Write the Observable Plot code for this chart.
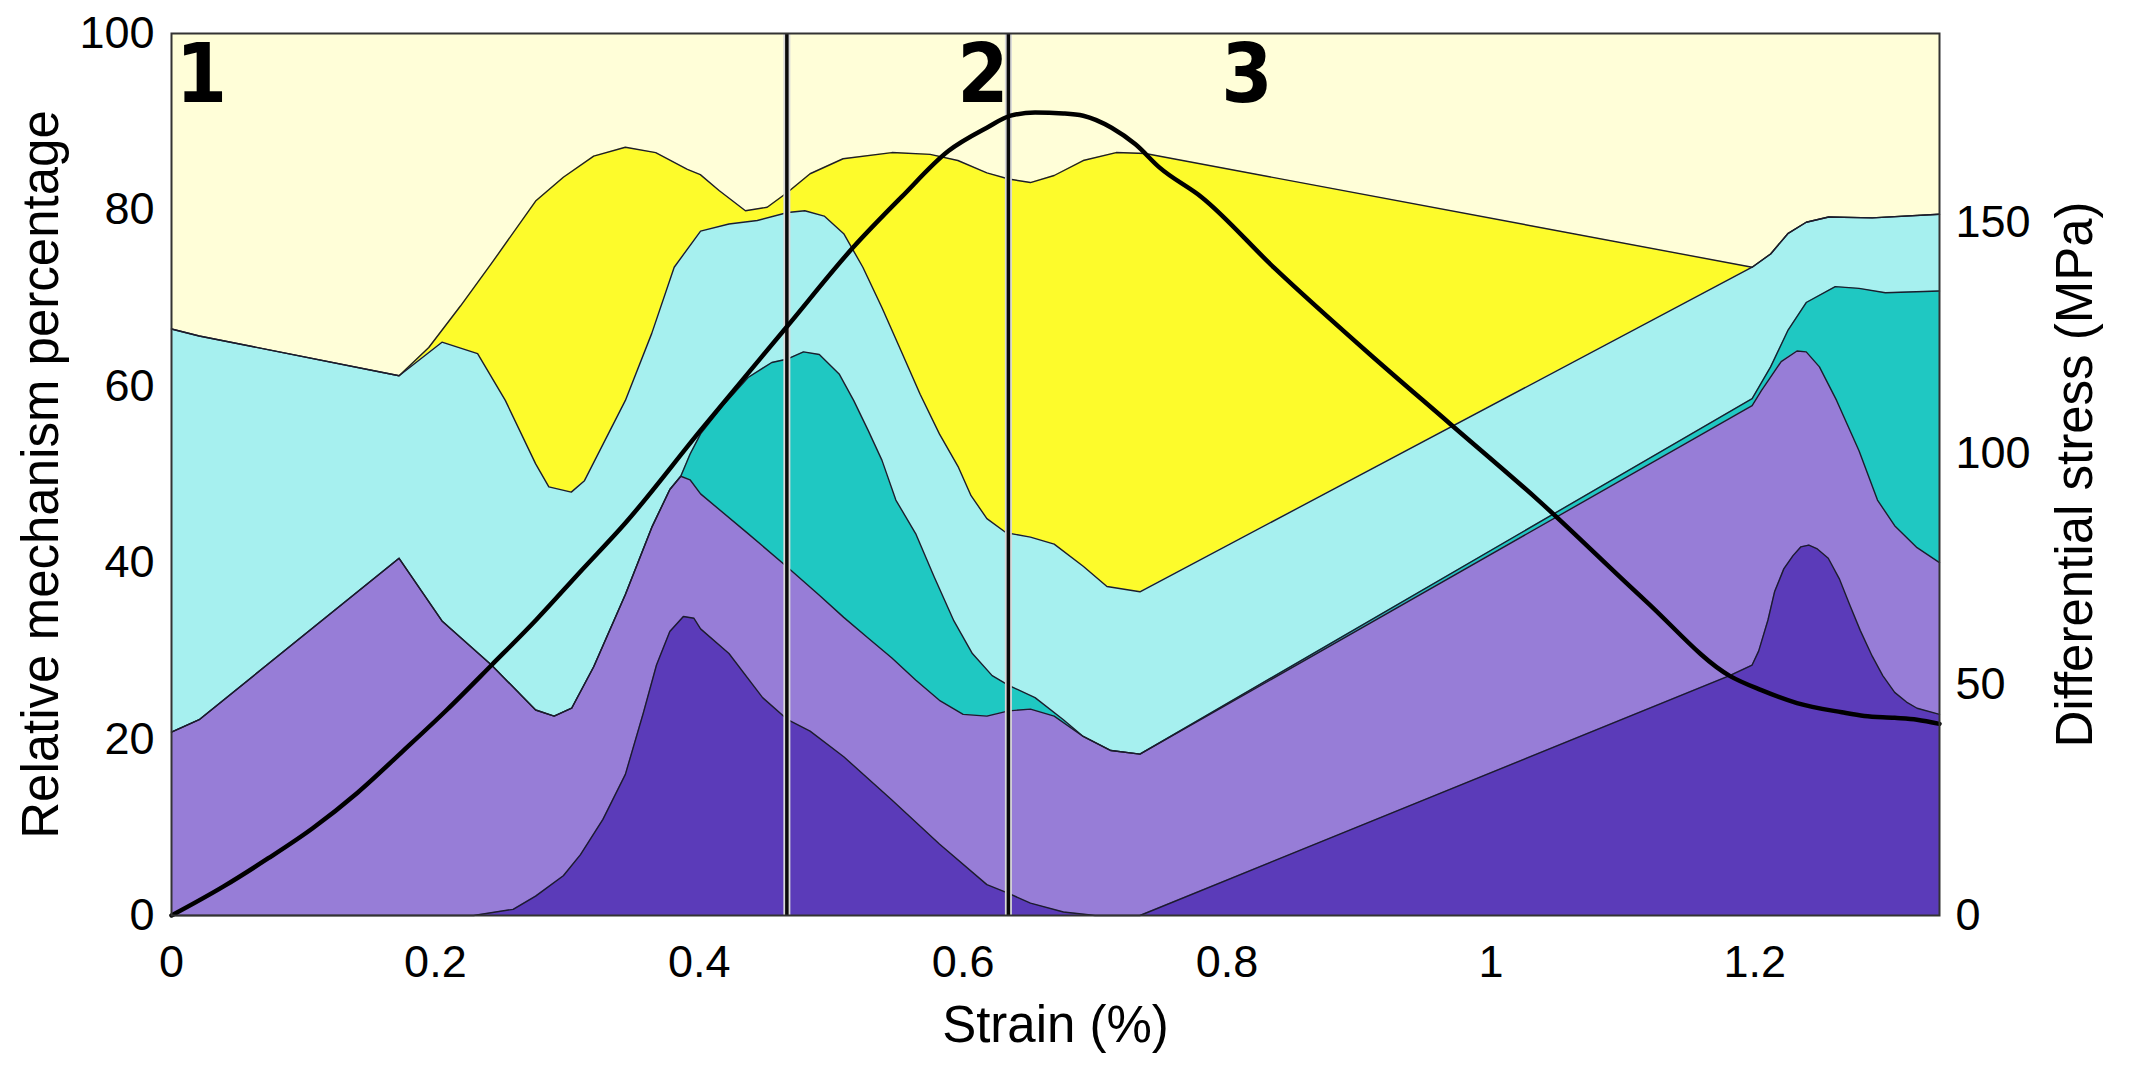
<!DOCTYPE html>
<html><head><meta charset="utf-8">
<script src="https://cdn.jsdelivr.net/npm/d3@7"></script>
<script src="https://cdn.jsdelivr.net/npm/@observablehq/plot@0.6"></script>
<style>
html,body{margin:0;padding:0;background:#fff;}
#chart{width:2148px;height:1075px;}
</style></head><body><div id="chart"></div>
<script>
// ---- data (strain %, cumulative mechanism percentage) ----
const darkPurpleTop = [[0,0],[0.229,0],[0.259,0.7],[0.276,2.2],[0.297,4.5],[0.310,6.9],[0.327,10.9],[0.344,16.0],[0.3575,22.9],[0.3676,28.4],[0.3777,32.2],[0.388,33.9],[0.396,33.7],[0.401,32.5],[0.4225,29.7],[0.448,24.7],[0.467,22.2],[0.484,20.9],[0.5095,18.0],[0.546,13.1],[0.582,8.1],[0.618,3.5],[0.6345,2.5],[0.651,1.4],[0.676,0.4],[0.70,0],[0.734,0],[1.181,27.2],[1.198,28.4],[1.203,30.0],[1.21,33.5],[1.215,36.7],[1.222,39.3],[1.229,40.8],[1.235,41.8],[1.241,42.0],[1.247,41.6],[1.2557,40.5],[1.264,38.2],[1.272,35.2],[1.28,32.3],[1.289,29.4],[1.297,27.2],[1.306,25.3],[1.315,24.2],[1.323,23.5],[1.34,22.8]];
const purpleTop = [[0,20.8],[0.021,22.2],[0.1725,40.5],[0.205,33.4],[0.2425,28.4],[0.276,23.3],[0.290,22.6],[0.3033,23.5],[0.320,28.2],[0.344,36.4],[0.364,44.0],[0.3777,48.3],[0.386,49.8],[0.393,49.4],[0.401,47.8],[0.437,43.3],[0.466,39.6],[0.491,36.3],[0.5095,33.8],[0.5277,31.5],[0.546,29.2],[0.564,26.7],[0.582,24.4],[0.600,22.8],[0.618,22.6],[0.6345,23.2],[0.651,23.4],[0.669,22.6],[0.691,20.3],[0.712,18.7],[0.734,18.3],[1.198,57.8],[1.205,59.5],[1.22,62.8],[1.232,64.0],[1.239,63.9],[1.249,62.2],[1.262,58.4],[1.279,52.7],[1.293,47.1],[1.306,44.2],[1.323,41.7],[1.34,40.0]];
const tealTop = [[0,20.8],[0.021,22.2],[0.1725,40.5],[0.205,33.4],[0.2425,28.4],[0.276,23.3],[0.290,22.6],[0.3033,23.5],[0.320,28.2],[0.344,36.4],[0.364,44.0],[0.3777,48.3],[0.386,49.8],[0.393,52.3],[0.401,54.6],[0.419,58.0],[0.437,61.0],[0.455,62.7],[0.467,63.1],[0.479,63.9],[0.491,63.6],[0.506,61.4],[0.517,58.4],[0.528,55.0],[0.5385,51.6],[0.549,47.1],[0.564,43.3],[0.578,38.4],[0.593,33.4],[0.607,29.7],[0.622,27.2],[0.6345,26.1],[0.6545,24.7],[0.676,22.2],[0.691,20.3],[0.712,18.7],[0.734,18.3],[1.198,58.6],[1.212,62.2],[1.225,66.3],[1.239,69.5],[1.261,71.3],[1.279,71.1],[1.299,70.6],[1.34,70.8]];
const cyanTop = [[0,66.5],[0.021,65.7],[0.1725,61.2],[0.205,65.0],[0.232,63.7],[0.253,58.4],[0.276,51.2],[0.286,48.6],[0.303,48.0],[0.313,49.3],[0.344,58.4],[0.364,66.0],[0.381,73.5],[0.401,77.6],[0.4225,78.4],[0.444,78.8],[0.467,79.7],[0.480,79.9],[0.4947,79.3],[0.5095,77.3],[0.524,73.5],[0.5385,68.9],[0.553,64.0],[0.5674,59.1],[0.582,54.6],[0.5965,50.8],[0.606,47.6],[0.618,45.0],[0.6326,43.4],[0.651,42.9],[0.669,42.1],[0.691,39.6],[0.709,37.3],[0.734,36.7],[1.198,73.5],[1.212,75.0],[1.225,77.3],[1.239,78.6],[1.256,79.2],[1.289,79.1],[1.34,79.5]];
const yellowTop = [[0,66.5],[0.021,65.7],[0.1725,61.2],[0.195,64.4],[0.219,69.1],[0.2424,73.9],[0.276,81.0],[0.297,83.7],[0.32,86.1],[0.344,87.1],[0.367,86.5],[0.391,84.6],[0.4008,84.0],[0.415,82.2],[0.435,79.9],[0.4515,80.3],[0.467,82.0],[0.484,84.1],[0.509,85.8],[0.546,86.5],[0.575,86.3],[0.596,85.6],[0.618,84.2],[0.6345,83.5],[0.651,83.1],[0.669,83.9],[0.691,85.6],[0.716,86.5],[0.738,86.4],[1.198,73.5],[1.212,75.0],[1.225,77.3],[1.239,78.6],[1.256,79.2],[1.289,79.1],[1.34,79.5]];
// differential stress (MPa) along strain
const stressStrain = [0,0.0395,0.0734,0.107,0.141,0.175,0.2086,0.2425,0.2763,0.310,0.344,0.4008,0.467,0.5167,0.553,0.589,0.618,0.636,0.6545,0.676,0.691,0.7125,0.7306,0.7487,0.781,0.8356,0.908,0.969,1.036,1.117,1.181,1.205,1.232,1.266,1.283,1.306,1.323,1.34];
const stressMPa    = [0,6.3,12.4,18.9,26.6,35.5,44.5,54.2,64.0,74.5,85.0,105.0,127.7,144.7,155.5,165.6,170.6,173.2,173.9,173.7,173.2,170.6,167.0,162.0,155.5,140.3,121.6,106.5,89.9,68.2,51.9,48.8,46.0,44.0,43.2,42.8,42.4,41.5];
const phaseLines = [0.4664, 0.6343];
const phaseLabels = [{label:"1", strain:0.0227, pct:92.2},{label:"2", strain:0.615, pct:92.2},{label:"3", strain:0.815, pct:92.2}];
const xTicks = [0,0.2,0.4,0.6,0.8,1,1.2];
const yTicks = [0,20,40,60,80,100];
const stressTicks = [0,50,100,150];
const stressMax = 191;
const strainMax = 1.34;

const layers = [
  {name:"yellow", top: yellowTop, fill:"#fdfb2b"},
  {name:"cyan", top: cyanTop, fill:"#a6f0ef"},
  {name:"teal", top: tealTop, fill:"#1fc8c2"},
  {name:"purple", top: purpleTop, fill:"#977dd7"},
  {name:"dark", top: darkPurpleTop, fill:"#5b3bb9"}
];
const toObj = arr => arr.map(([s,p]) => ({strain:s, pct:p}));
const stress = stressStrain.map((s,i) => ({strain:s, mpa:stressMPa[i]}));
const toPct = v => v*100/stressMax;

const font = "'Liberation Sans', Arial, Helvetica, sans-serif";
const marks = [Plot.frame({fill:"#fffed8"})];
for (const L of layers) marks.push(Plot.areaY(toObj(L.top), {x:"strain", y:"pct", fill:L.fill, curve:"linear"}));
for (const L of layers) marks.push(Plot.line(toObj(L.top), {x:"strain", y:"pct", stroke:"#1c1c2c", strokeWidth:1.4, strokeLinejoin:"round", curve:"linear"}));
marks.push(
  Plot.ruleX(phaseLines, {stroke:"#d8d8d8", strokeWidth:7}),
  Plot.ruleX(phaseLines, {stroke:"#0a0a0a", strokeWidth:3.5}),
  Plot.line(stress, {x:"strain", y: d => toPct(d.mpa), stroke:"#000", strokeWidth:4.5, strokeLinejoin:"round", curve:"monotone-x"}),
  Plot.frame({stroke:"#333", strokeWidth:2}),
  Plot.axisX({ticks:xTicks, tickSize:0, tickPadding:30, fontSize:45, label:null, tickFormat:d=>String(d)}),
  Plot.axisY({ticks:yTicks, tickSize:0, tickPadding:17, fontSize:45, label:null}),
  Plot.text(stressTicks, {frameAnchor:"right", y: d => toPct(d), text: d => String(d), dx:16, textAnchor:"start", fontSize:45}),
  Plot.text(["Strain (%)"], {frameAnchor:"bottom", text:d=>d, textAnchor:"middle", lineAnchor:"middle", dy:110, fontSize:51}),
  Plot.text(["Relative mechanism percentage"], {frameAnchor:"left", text:d=>d, rotate:-90, textAnchor:"middle", lineAnchor:"middle", dx:-130, fontSize:51}),
  Plot.text(["Differential stress (MPa)"], {frameAnchor:"right", text:d=>d, rotate:-90, textAnchor:"middle", lineAnchor:"middle", dx:136, fontSize:51}),
  Plot.text(phaseLabels, {x:"strain", y:"pct", text:"label", fontFamily:"'DejaVu Sans Condensed','DejaVu Sans',sans-serif", fontWeight:"bold", fontSize:82, lineAnchor:"bottom", fill:"#000"})
);

const chart = Plot.plot({
  width:2148, height:1075,
  marginLeft:171, marginRight:209, marginTop:33, marginBottom:160,
  x:{domain:[0,strainMax]},
  y:{domain:[0,100]},
  style:{fontFamily:font, fontSize:"45px", color:"#000", background:"#fff", overflow:"visible"},
  marks
});
document.getElementById("chart").appendChild(chart);
</script></body></html>
